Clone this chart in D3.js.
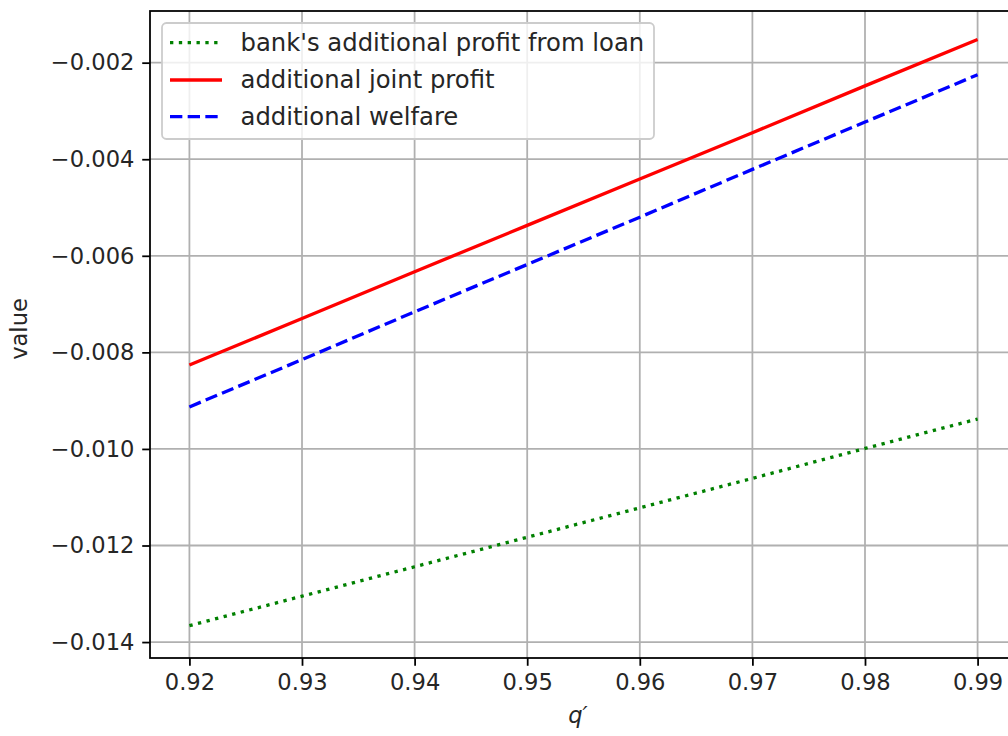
<!DOCTYPE html>
<html>
<head>
<meta charset="utf-8">
<script src="https://cdn.jsdelivr.net/npm/d3@7"></script>
<style>
  html, body { margin: 0; padding: 0; background: #fff; overflow: hidden; }
  svg { display: block; font-family: "DejaVu Sans", sans-serif; }
</style>
</head>
<body>
<svg id="chart" width="1008" height="736"></svg>
<script>
// q' grid
const qValues = [0.92, 0.93, 0.94, 0.95, 0.96, 0.97, 0.98, 0.99];
// bank's additional profit from loan
const bankProfit = [-0.01366, -0.01305, -0.01244, -0.01183, -0.01122, -0.01061, -0.00999, -0.00938];
// additional joint profit
const jointProfit = [-0.00826, -0.00730, -0.00633, -0.00537, -0.00441, -0.00345, -0.00248, -0.00152];
// additional welfare
const welfare = [-0.00913, -0.00815, -0.00716, -0.00618, -0.00520, -0.00421, -0.00323, -0.00225];

const xTicks = [0.92, 0.93, 0.94, 0.95, 0.96, 0.97, 0.98, 0.99];
const yTicks = [-0.014, -0.012, -0.010, -0.008, -0.006, -0.004, -0.002];

const seriesNames = ["bank's additional profit from loan", "additional joint profit", "additional welfare"];
const seriesData = [bankProfit, jointProfit, welfare];

const pt = 160 / 72;              // points -> pixels
const fontSize = 22.6;
const legendFontSize = 24.3;
const lineW = 1.5 * pt;
const styles = [
  { color: "#008000", dash: [1 * lineW, 1.65 * lineW] },
  { color: "#ff0000", dash: null },
  { color: "#0000ff", dash: [3.7 * lineW, 1.6 * lineW] }
];

const svg = d3.select("#chart");
const plotLeft = 150, plotRight = 1017, plotTop = 11, plotBottom = 658;

const x = d3.scaleLinear().domain([0.9165, 0.9935]).range([plotLeft, plotRight]);
const y = d3.scaleLinear().domain([-0.01433, -0.00093]).range([plotBottom, plotTop]);

// grid
const grid = svg.append("g").attr("stroke", "#b0b0b0").attr("stroke-width", 0.8 * pt);
grid.selectAll("line.gx").data(xTicks).join("line")
  .attr("class", "gx")
  .attr("x1", d => x(d)).attr("x2", d => x(d))
  .attr("y1", plotTop).attr("y2", plotBottom);
grid.selectAll("line.gy").data(yTicks).join("line")
  .attr("class", "gy")
  .attr("x1", plotLeft).attr("x2", plotRight)
  .attr("y1", d => y(d)).attr("y2", d => y(d));

// series lines
const line = d3.line().x((d, i) => x(qValues[i])).y(d => y(d));
seriesData.forEach((vals, k) => {
  svg.append("path")
    .datum(vals)
    .attr("d", line)
    .attr("fill", "none")
    .attr("stroke", styles[k].color)
    .attr("stroke-width", lineW)
    .attr("stroke-dasharray", styles[k].dash ? styles[k].dash.join(",") : null);
});

// axes
const xAxis = d3.axisBottom(x).tickValues(xTicks).tickFormat(d3.format(".2f"))
  .tickSize(3.5 * pt).tickPadding(3.5 * pt);
const yAxis = d3.axisLeft(y).tickValues(yTicks).tickFormat(d3.format(".3f"))
  .tickSize(3.5 * pt).tickPadding(3.5 * pt);

const gx = svg.append("g").attr("transform", `translate(0,${plotBottom})`).call(xAxis);
const gy = svg.append("g").attr("transform", `translate(${plotLeft},0)`).call(yAxis);
[gx, gy].forEach(g => {
  g.select(".domain").remove();
  g.selectAll(".tick line").attr("stroke", "#000").attr("stroke-width", 0.8 * pt);
  g.selectAll(".tick text").attr("fill", "#262626")
    .style("font-size", fontSize + "px").style("font-family", "DejaVu Sans");
});

// spines
svg.append("rect")
  .attr("x", plotLeft).attr("y", plotTop)
  .attr("width", plotRight - plotLeft).attr("height", plotBottom - plotTop)
  .attr("fill", "none").attr("stroke", "#000").attr("stroke-width", 0.8 * pt);

// axis labels
svg.append("text")
  .attr("x", 578).attr("y", 723)
  .attr("text-anchor", "middle")
  .style("font-size", fontSize + "px").style("font-style", "italic")
  .attr("fill", "#262626")
  .text("q′");

svg.append("text")
  .attr("transform", "translate(27,329) rotate(-90)")
  .attr("text-anchor", "middle")
  .style("font-size", fontSize + "px")
  .attr("fill", "#262626")
  .text("value");

// legend
const legend = svg.append("g");
legend.append("rect")
  .attr("x", 162).attr("y", 23).attr("width", 492).attr("height", 116)
  .attr("rx", 4.4).attr("ry", 4.4)
  .attr("fill", "#fff").attr("fill-opacity", 0.8)
  .attr("stroke", "#cccccc").attr("stroke-width", 0.8 * pt);

const rowY = [42.7, 80, 116.7];
seriesNames.forEach((name, k) => {
  legend.append("line")
    .attr("x1", 170).attr("x2", 222)
    .attr("y1", rowY[k]).attr("y2", rowY[k])
    .attr("stroke", styles[k].color)
    .attr("stroke-width", lineW)
    .attr("stroke-dasharray", styles[k].dash ? styles[k].dash.join(",") : null);
  legend.append("text")
    .attr("x", 240.5).attr("y", rowY[k]).attr("dy", "0.34em")
    .style("font-size", legendFontSize + "px")
    .attr("fill", "#262626")
    .text(name);
});
</script>
</body>
</html>
